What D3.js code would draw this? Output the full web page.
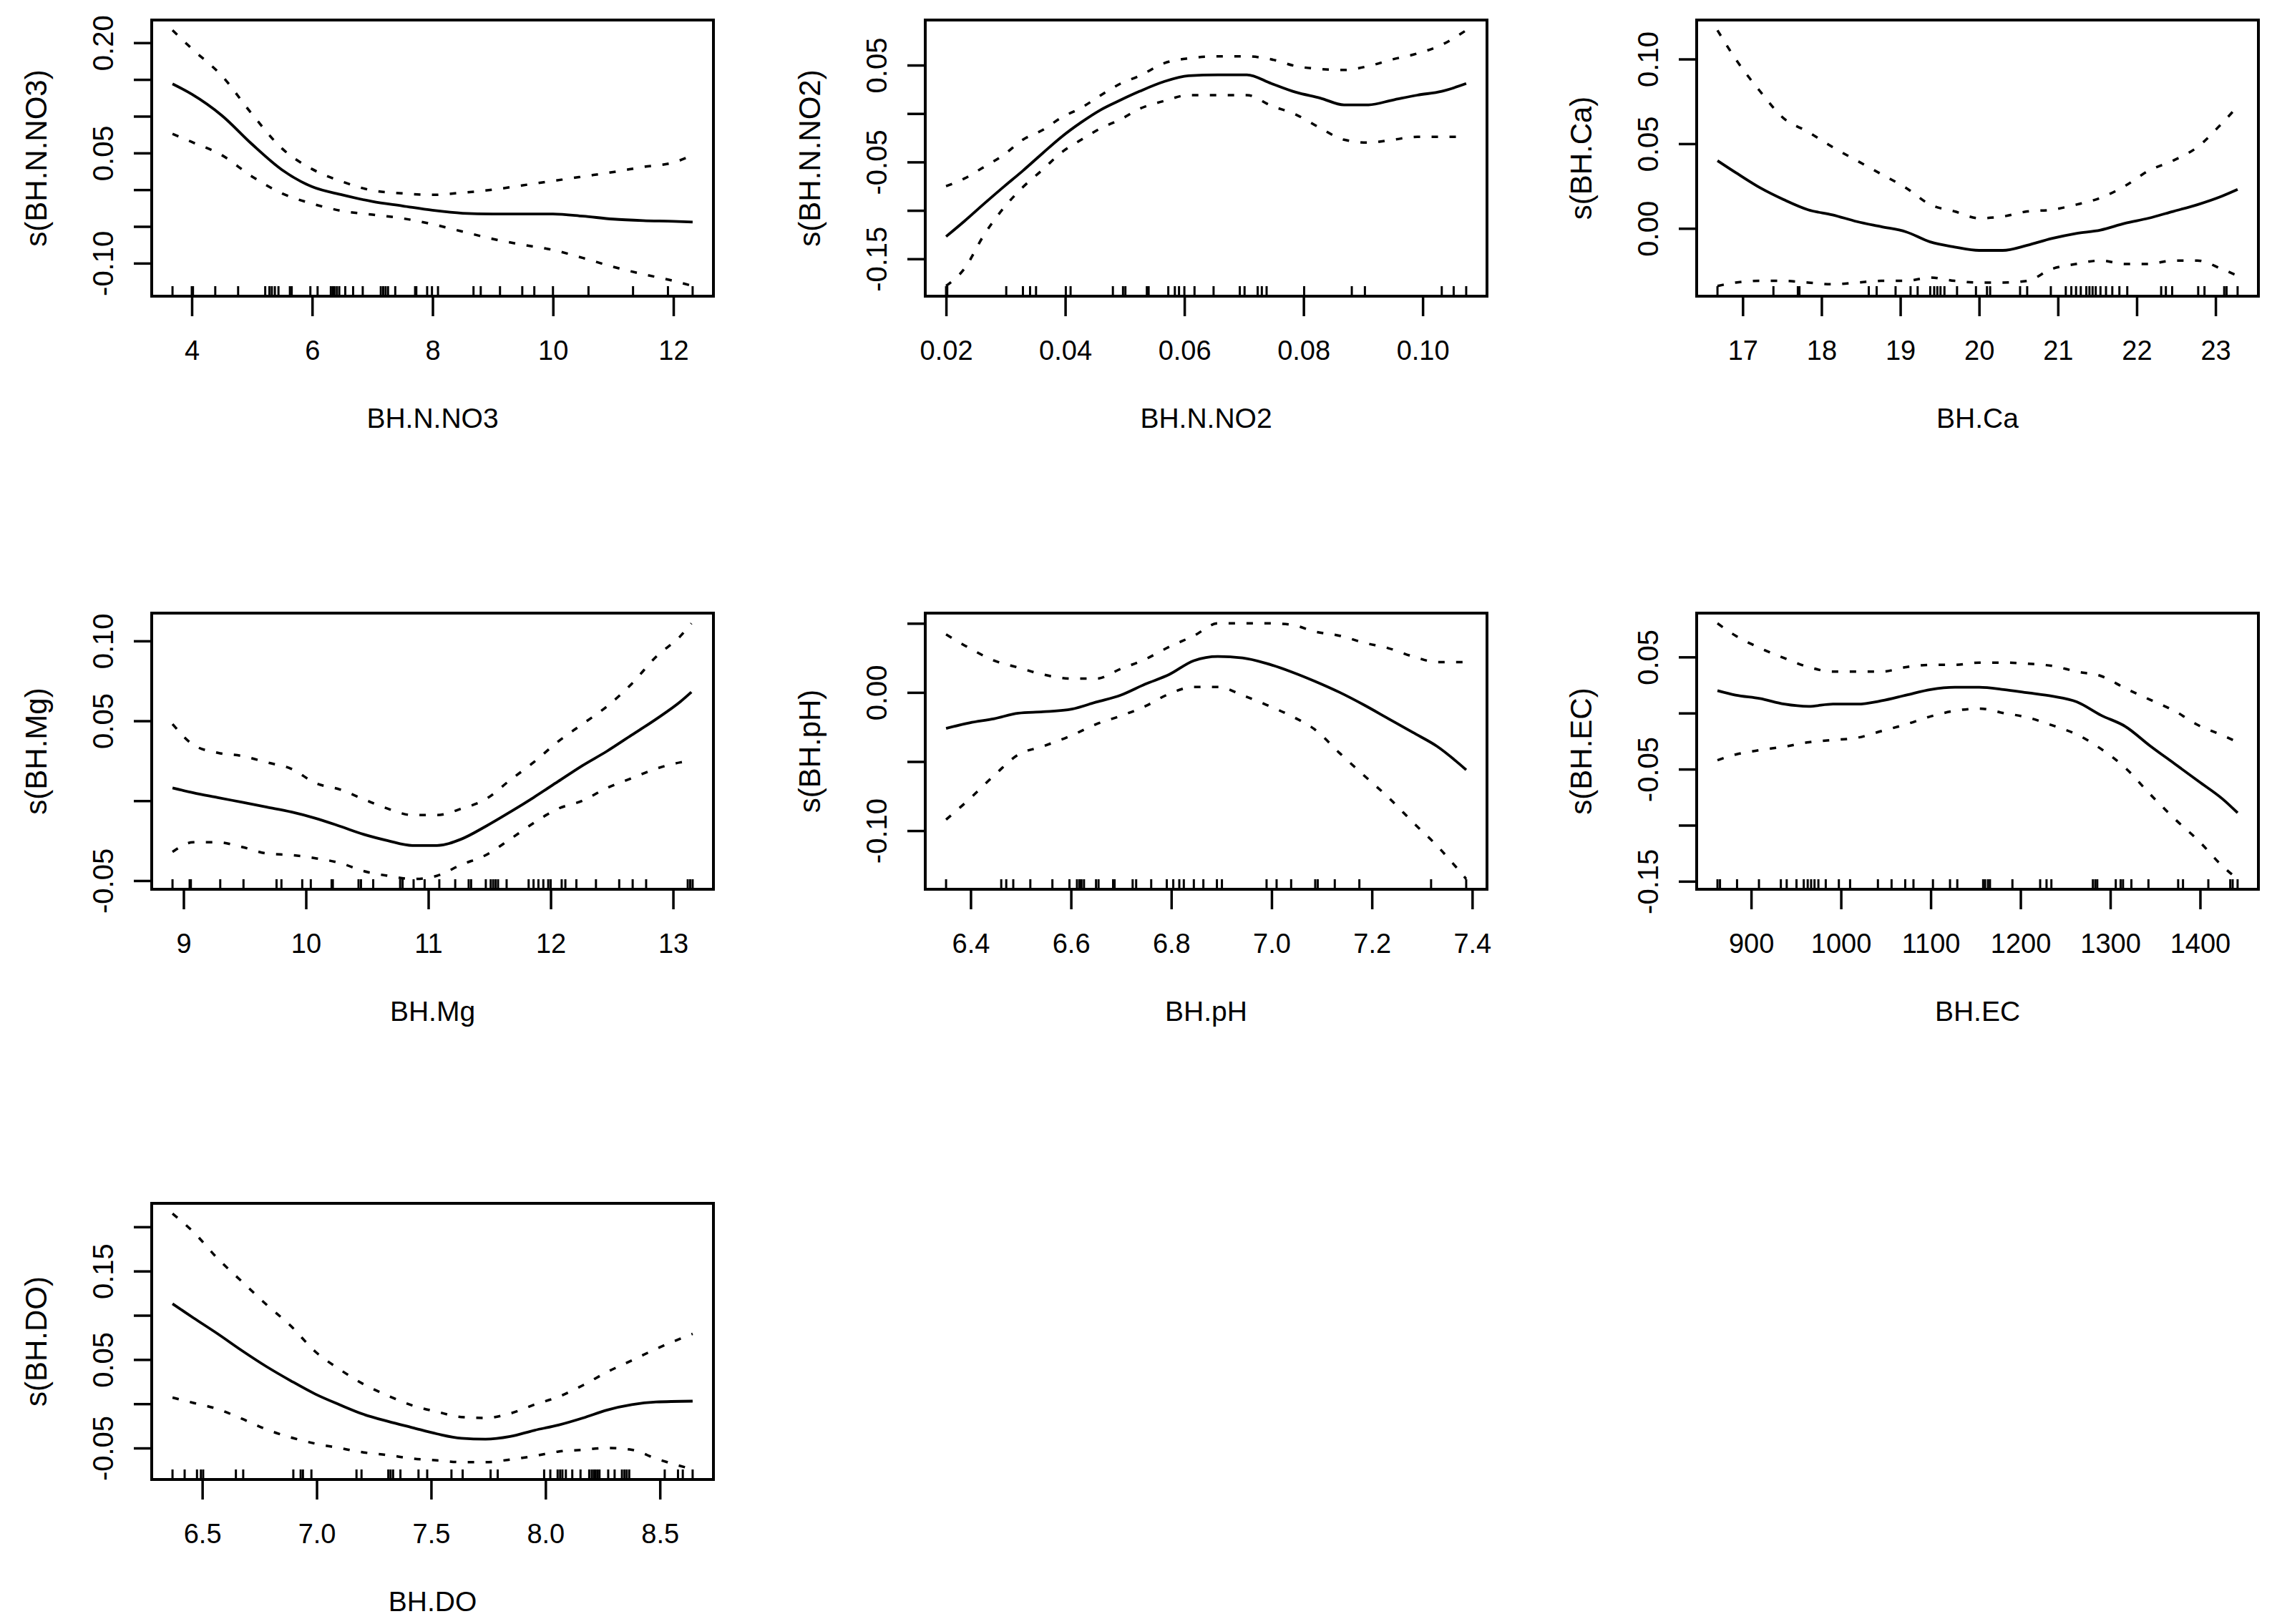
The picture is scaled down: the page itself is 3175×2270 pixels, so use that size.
<!DOCTYPE html>
<html lang="en">
<head>
<meta charset="utf-8">
<title>GAM smooth terms</title>
<script src="https://d3js.org/d3.v7.min.js"></script>
<style>
body { margin: 0; background: #fff; }
text { font-family: "Liberation Sans", Arial, sans-serif; fill: #000; }
</style>
</head>
<body>
<div id="chart"></div>
<script>
// ---- BH.N.NO3
var no3X   = [3.68, 4.0, 4.5, 5.0, 5.5, 6.0, 6.5, 7.0, 7.5, 8.0, 8.5, 9.0, 9.5, 10.0, 10.5, 11.0, 11.5, 12.0, 12.32];
var no3Fit = [0.144, 0.130, 0.101, 0.062, 0.027, 0.004, -0.007, -0.016, -0.022, -0.028, -0.032, -0.033, -0.033, -0.033, -0.036, -0.040, -0.042, -0.043, -0.044];
var no3Up  = [0.217, 0.192, 0.155, 0.103, 0.056, 0.028, 0.011, -0.001, -0.005, -0.007, -0.004, 0.000, 0.006, 0.012, 0.018, 0.024, 0.031, 0.037, 0.047];
var no3Lo  = [0.076, 0.065, 0.047, 0.018, -0.005, -0.019, -0.029, -0.034, -0.039, -0.047, -0.057, -0.067, -0.075, -0.082, -0.093, -0.105, -0.115, -0.124, -0.131];
var no3Rug = [3.68, 4.00, 4.02, 4.39, 4.77, 5.22, 5.29, 5.33, 5.38, 5.44, 5.63, 5.66, 5.97, 6.09, 6.31, 6.34, 6.37, 6.41, 6.45, 6.55, 6.68, 6.84, 7.14, 7.18, 7.22, 7.26, 7.38, 7.71, 7.73, 7.91, 7.99, 8.09, 8.68, 8.80, 9.12, 9.49, 9.69, 10.0, 10.59, 11.33, 11.91, 12.32];
var no3XLabels = ["4", "6", "8", "10", "12"];
var no3YTicks  = [-0.10, -0.05, 0, 0.05, 0.10, 0.15, 0.20];
var no3YLabels = ["-0.10", "", "", "0.05", "", "", "0.20"];

// ---- BH.N.NO2
var no2X   = [0.0200, 0.0231, 0.0264, 0.0296, 0.0329, 0.0362, 0.0394, 0.0427, 0.0460, 0.0493, 0.0525, 0.0566, 0.0607, 0.0656, 0.0705, 0.0746, 0.0787, 0.0828, 0.0868, 0.0909, 0.0950, 0.0991, 0.1032, 0.1073];
var no2Fit = [-0.127, -0.111, -0.093, -0.076, -0.059, -0.041, -0.024, -0.009, 0.004, 0.014, 0.023, 0.033, 0.039, 0.040, 0.040, 0.031, 0.022, 0.016, 0.009, 0.009, 0.014, 0.019, 0.023, 0.031];
var no2Up  = [-0.075, -0.067, -0.055, -0.043, -0.027, -0.017, -0.004, 0.006, 0.019, 0.031, 0.039, 0.052, 0.057, 0.059, 0.059, 0.056, 0.049, 0.046, 0.045, 0.049, 0.056, 0.062, 0.071, 0.086];
var no2Lo  = [-0.178, -0.160, -0.125, -0.098, -0.076, -0.058, -0.040, -0.027, -0.015, -0.006, 0.005, 0.013, 0.019, 0.019, 0.019, 0.008, -0.001, -0.015, -0.027, -0.030, -0.027, -0.024, -0.024, -0.024];
var no2Rug = [0.0200, 0.0202, 0.0301, 0.0329, 0.0341, 0.0351, 0.0401, 0.0409, 0.0480, 0.0497, 0.0501, 0.0537, 0.0540, 0.0573, 0.0584, 0.0591, 0.0600, 0.0617, 0.0649, 0.0693, 0.0701, 0.0723, 0.0730, 0.0738, 0.0801, 0.0881, 0.0903, 0.1032, 0.1052, 0.1073];
var no2XLabels = ["0.02", "0.04", "0.06", "0.08", "0.10"];
var no2YTicks  = [-0.15, -0.10, -0.05, 0, 0.05];
var no2YLabels = ["-0.15", "", "-0.05", "", "0.05"];

// ---- BH.Ca
var caX   = [16.68, 16.91, 17.22, 17.52, 17.83, 18.14, 18.45, 18.76, 19.07, 19.38, 19.69, 20.00, 20.30, 20.61, 20.92, 21.23, 21.54, 21.85, 22.15, 22.46, 22.77, 23.08, 23.28];
var caFit = [0.040, 0.033, 0.024, 0.017, 0.011, 0.008, 0.004, 0.001, -0.002, -0.008, -0.011, -0.013, -0.013, -0.010, -0.006, -0.003, -0.001, 0.003, 0.006, 0.010, 0.014, 0.019, 0.023];
var caUp  = [0.117, 0.100, 0.081, 0.065, 0.057, 0.048, 0.040, 0.032, 0.024, 0.014, 0.010, 0.006, 0.007, 0.010, 0.011, 0.014, 0.018, 0.025, 0.034, 0.040, 0.048, 0.062, 0.072];
var caLo  = [-0.034, -0.032, -0.031, -0.031, -0.032, -0.033, -0.032, -0.031, -0.031, -0.029, -0.031, -0.032, -0.032, -0.031, -0.024, -0.021, -0.019, -0.021, -0.021, -0.019, -0.019, -0.024, -0.028];
var caRug = [16.68, 17.39, 17.70, 17.72, 18.60, 18.70, 18.94, 19.13, 19.22, 19.38, 19.43, 19.47, 19.51, 19.56, 19.72, 19.96, 20.10, 20.14, 20.52, 20.61, 20.91, 21.10, 21.17, 21.23, 21.29, 21.36, 21.40, 21.44, 21.48, 21.54, 21.61, 21.69, 21.78, 21.88, 22.31, 22.37, 22.45, 22.78, 22.86, 23.11, 23.14, 23.28];
var caXLabels = ["17", "18", "19", "20", "21", "22", "23"];
var caYTicks  = [0, 0.05, 0.10];
var caYLabels = ["0.00", "0.05", "0.10"];

// ---- BH.Mg
var mgX   = [8.91, 9.08, 9.28, 9.48, 9.68, 9.88, 10.08, 10.28, 10.47, 10.67, 10.87, 11.07, 11.27, 11.47, 11.67, 11.86, 12.06, 12.26, 12.46, 12.66, 12.86, 13.06, 13.15];
var mgFit = [0.008, 0.005, 0.002, -0.001, -0.004, -0.007, -0.011, -0.016, -0.021, -0.025, -0.028, -0.028, -0.024, -0.016, -0.007, 0.002, 0.012, 0.022, 0.031, 0.041, 0.051, 0.062, 0.068];
var mgUp  = [0.048, 0.035, 0.030, 0.028, 0.024, 0.020, 0.011, 0.007, 0.001, -0.005, -0.009, -0.009, -0.005, 0.001, 0.013, 0.024, 0.037, 0.048, 0.059, 0.073, 0.090, 0.103, 0.111];
var mgLo  = [-0.032, -0.026, -0.026, -0.029, -0.033, -0.034, -0.036, -0.039, -0.044, -0.047, -0.049, -0.047, -0.040, -0.034, -0.024, -0.014, -0.005, 0.000, 0.008, 0.014, 0.020, 0.024, 0.025];
var mgRug = [8.91, 9.05, 9.06, 9.30, 9.49, 9.76, 9.80, 9.97, 10.04, 10.21, 10.22, 10.43, 10.45, 10.55, 10.77, 10.79, 10.88, 10.97, 11.09, 11.22, 11.33, 11.35, 11.47, 11.51, 11.53, 11.55, 11.57, 11.64, 11.82, 11.86, 11.90, 11.94, 11.98, 12.00, 12.09, 12.12, 12.21, 12.37, 12.56, 12.67, 12.78, 13.12, 13.14, 13.16];
var mgXLabels = ["9", "10", "11", "12", "13"];
var mgYTicks  = [-0.05, 0, 0.05, 0.10];
var mgYLabels = ["-0.05", "", "0.05", "0.10"];

// ---- BH.pH
var phX   = [6.351, 6.398, 6.447, 6.495, 6.544, 6.602, 6.650, 6.699, 6.748, 6.796, 6.845, 6.893, 6.942, 6.990, 7.039, 7.087, 7.136, 7.184, 7.233, 7.282, 7.330, 7.388];
var phFit = [-0.026, -0.022, -0.019, -0.015, -0.014, -0.012, -0.007, -0.002, 0.006, 0.013, 0.023, 0.026, 0.025, 0.021, 0.015, 0.008, 0.000, -0.009, -0.019, -0.029, -0.039, -0.056];
var phUp  = [0.042, 0.032, 0.023, 0.018, 0.013, 0.010, 0.010, 0.017, 0.024, 0.033, 0.041, 0.050, 0.050, 0.050, 0.049, 0.044, 0.041, 0.036, 0.032, 0.026, 0.022, 0.022];
var phLo  = [-0.092, -0.077, -0.060, -0.045, -0.039, -0.031, -0.023, -0.017, -0.010, -0.001, 0.004, 0.004, -0.002, -0.009, -0.017, -0.027, -0.044, -0.060, -0.076, -0.094, -0.111, -0.135];
var phRug = [6.351, 6.461, 6.471, 6.485, 6.519, 6.563, 6.597, 6.612, 6.617, 6.621, 6.626, 6.650, 6.655, 6.684, 6.687, 6.723, 6.730, 6.760, 6.791, 6.804, 6.816, 6.825, 6.845, 6.864, 6.891, 6.901, 6.990, 7.010, 7.039, 7.087, 7.092, 7.126, 7.175, 7.318, 7.388];
var phXLabels = ["6.4", "6.6", "6.8", "7.0", "7.2", "7.4"];
var phYTicks  = [-0.10, -0.05, 0, 0.05];
var phYLabels = ["-0.10", "", "0.00", ""];

// ---- BH.EC
var ecX   = [862.5, 882.6, 909.8, 936.9, 964.1, 991.2, 1018.3, 1045.5, 1072.6, 1099.8, 1126.9, 1154.1, 1181.2, 1208.4, 1235.5, 1262.6, 1289.8, 1316.9, 1344.0, 1371.3, 1398.5, 1425.6, 1441.8];
var ecFit = [0.020, 0.016, 0.013, 0.008, 0.006, 0.008, 0.008, 0.011, 0.016, 0.021, 0.023, 0.023, 0.021, 0.018, 0.015, 0.010, -0.002, -0.012, -0.029, -0.045, -0.061, -0.077, -0.089];
var ecUp  = [0.080, 0.069, 0.058, 0.049, 0.041, 0.037, 0.037, 0.037, 0.041, 0.043, 0.043, 0.045, 0.045, 0.044, 0.042, 0.037, 0.033, 0.022, 0.012, 0.002, -0.011, -0.020, -0.026];
var ecLo  = [-0.042, -0.037, -0.033, -0.030, -0.026, -0.024, -0.022, -0.016, -0.010, -0.003, 0.002, 0.004, 0.000, -0.004, -0.011, -0.019, -0.032, -0.049, -0.072, -0.094, -0.114, -0.137, -0.148];
var ecRug = [862.5, 865.3, 884.3, 908.7, 933.1, 939.6, 950.5, 958.6, 963.0, 966.8, 970.6, 974.9, 983.1, 997.7, 1010.2, 1041.2, 1056.4, 1071.6, 1080.8, 1102.5, 1121.5, 1129.6, 1158.4, 1160.6, 1163.8, 1166.0, 1191.0, 1221.9, 1229.0, 1234.4, 1280.6, 1283.3, 1285.5, 1306.1, 1311.5, 1314.2, 1323.5, 1342.5, 1375.6, 1381.0, 1409.2, 1433.6, 1436.3, 1441.8];
var ecXLabels = ["900", "1000", "1100", "1200", "1300", "1400"];
var ecYTicks  = [-0.15, -0.10, -0.05, 0, 0.05];
var ecYLabels = ["-0.15", "", "-0.05", "", "0.05"];

// ---- BH.DO
var doX   = [6.370, 6.462, 6.568, 6.674, 6.781, 6.887, 6.994, 7.100, 7.206, 7.313, 7.419, 7.526, 7.632, 7.738, 7.845, 7.951, 8.057, 8.164, 8.270, 8.377, 8.483, 8.643];
var doFit = [0.113, 0.097, 0.079, 0.060, 0.042, 0.026, 0.011, -0.001, -0.012, -0.020, -0.027, -0.034, -0.039, -0.040, -0.037, -0.030, -0.024, -0.016, -0.007, -0.001, 0.002, 0.003];
var doUp  = [0.215, 0.194, 0.164, 0.138, 0.112, 0.088, 0.059, 0.039, 0.022, 0.009, -0.002, -0.009, -0.015, -0.016, -0.011, -0.001, 0.008, 0.021, 0.036, 0.049, 0.062, 0.079];
var doLo  = [0.007, 0.001, -0.006, -0.017, -0.029, -0.038, -0.045, -0.050, -0.055, -0.058, -0.062, -0.064, -0.066, -0.066, -0.063, -0.059, -0.054, -0.052, -0.050, -0.052, -0.062, -0.074];
var doRug = [6.370, 6.423, 6.477, 6.494, 6.504, 6.647, 6.679, 6.898, 6.930, 6.940, 6.977, 7.174, 7.196, 7.313, 7.323, 7.334, 7.366, 7.445, 7.483, 7.589, 7.638, 7.760, 7.791, 7.994, 8.021, 8.053, 8.064, 8.074, 8.089, 8.117, 8.153, 8.191, 8.202, 8.211, 8.219, 8.228, 8.236, 8.274, 8.302, 8.334, 8.345, 8.355, 8.366, 8.521, 8.579, 8.600, 8.643];
var doXLabels = ["6.5", "7.0", "7.5", "8.0", "8.5"];
var doYTicks  = [-0.05, 0, 0.05, 0.10, 0.15, 0.20];
var doYLabels = ["-0.05", "", "0.05", "", "0.15", ""];

//Width and height
var w = 3175, h = 2270;
var boxW = 785, boxH = 386;
var colLeft = [212, 1293, 2371];
var rowTop = [28, 857, 1682];

var panels = [
	{name: "BH.N.NO3", x: no3X, fit: no3Fit, up: no3Up, lo: no3Lo, rug: no3Rug, xl: no3XLabels, yt: no3YTicks, yl: no3YLabels, col: 0, row: 0},
	{name: "BH.N.NO2", x: no2X, fit: no2Fit, up: no2Up, lo: no2Lo, rug: no2Rug, xl: no2XLabels, yt: no2YTicks, yl: no2YLabels, col: 1, row: 0},
	{name: "BH.Ca",    x: caX,  fit: caFit,  up: caUp,  lo: caLo,  rug: caRug,  xl: caXLabels,  yt: caYTicks,  yl: caYLabels,  col: 2, row: 0},
	{name: "BH.Mg",    x: mgX,  fit: mgFit,  up: mgUp,  lo: mgLo,  rug: mgRug,  xl: mgXLabels,  yt: mgYTicks,  yl: mgYLabels,  col: 0, row: 1},
	{name: "BH.pH",    x: phX,  fit: phFit,  up: phUp,  lo: phLo,  rug: phRug,  xl: phXLabels,  yt: phYTicks,  yl: phYLabels,  col: 1, row: 1},
	{name: "BH.EC",    x: ecX,  fit: ecFit,  up: ecUp,  lo: ecLo,  rug: ecRug,  xl: ecXLabels,  yt: ecYTicks,  yl: ecYLabels,  col: 2, row: 1},
	{name: "BH.DO",    x: doX,  fit: doFit,  up: doUp,  lo: doLo,  rug: doRug,  xl: doXLabels,  yt: doYTicks,  yl: doYLabels,  col: 0, row: 2}
];

var svg = d3.select("#chart").append("svg")
	.attr("width", w)
	.attr("height", h)
	.style("display", "block");

svg.append("rect").attr("width", w).attr("height", h).attr("fill", "#fff");

// R style range: data range padded by 4% on each side
function padded(ext) {
	var d = (ext[1] - ext[0]) * 0.04;
	return [ext[0] - d, ext[1] + d];
}

panels.forEach(function (p) {
	var g = svg.append("g")
		.attr("transform", "translate(" + colLeft[p.col] + "," + rowTop[p.row] + ")");

	var xScale = d3.scaleLinear()
		.domain(padded(d3.extent(p.rug.concat(p.x))))
		.range([0, boxW]);

	var yScale = d3.scaleLinear()
		.domain(padded([d3.min(p.lo), d3.max(p.up)]))
		.range([boxH, 0]);

	function line(vals) {
		return d3.line()
			.x(function (d, i) { return xScale(p.x[i]); })
			.y(function (d) { return yScale(d); })
			.curve(d3.curveMonotoneX)(vals);
	}

	// confidence bands (dashed)
	[p.up, p.lo].forEach(function (band) {
		g.append("path")
			.attr("d", line(band))
			.attr("fill", "none")
			.attr("stroke", "#000")
			.attr("stroke-width", 3.5)
			.attr("stroke-dasharray", "9,16");
	});

	// fitted smooth
	g.append("path")
		.attr("d", line(p.fit))
		.attr("fill", "none")
		.attr("stroke", "#000")
		.attr("stroke-width", 3.8);

	// rug
	g.selectAll(".rug")
		.data(p.rug)
		.enter().append("line")
		.attr("class", "rug")
		.attr("x1", function (d) { return xScale(d); })
		.attr("x2", function (d) { return xScale(d); })
		.attr("y1", boxH)
		.attr("y2", boxH - 14)
		.attr("stroke", "#000")
		.attr("stroke-width", 3);

	// x axis
	var xAxis = g.append("g")
		.attr("transform", "translate(0," + boxH + ")")
		.call(d3.axisBottom(xScale)
			.tickValues(p.xl.map(Number))
			.tickSize(28)
			.tickFormat(function (d, i) { return p.xl[i]; }));
	xAxis.select(".domain").remove();
	xAxis.selectAll(".tick line").attr("stroke-width", 3.5);
	xAxis.selectAll(".tick text")
		.attr("y", 89)
		.attr("dy", null)
		.attr("fill", "#000")
		.style("font-size", "38px")
		.style("font-family", "'Liberation Sans', Arial, sans-serif");

	// y axis
	var yAxis = g.append("g")
		.call(d3.axisLeft(yScale)
			.tickValues(p.yt)
			.tickSize(25)
			.tickFormat(function (d, i) { return p.yl[i]; }));
	yAxis.select(".domain").remove();
	yAxis.selectAll(".tick line").attr("stroke-width", 3.5);
	yAxis.selectAll(".tick text")
		.attr("x", null)
		.attr("dy", null)
		.attr("text-anchor", "middle")
		.attr("transform", "translate(-54,0) rotate(-90)")
		.attr("fill", "#000")
		.style("font-size", "40px")
		.style("font-family", "'Liberation Sans', Arial, sans-serif");

	// box
	g.append("rect")
		.attr("width", boxW)
		.attr("height", boxH)
		.attr("fill", "none")
		.attr("stroke", "#000")
		.attr("stroke-width", 4);

	// x-axis label
	g.append("text")
		.attr("x", boxW / 2)
		.attr("y", boxH + 184)
		.attr("text-anchor", "middle")
		.style("font-size", "39px")
		.text(p.name);

	// y-axis label
	g.append("text")
		.attr("transform", "translate(-147," + (boxH / 2) + ") rotate(-90)")
		.attr("text-anchor", "middle")
		.style("font-size", "42px")
		.text("s(" + p.name + ")");
});
</script>
</body>
</html>
